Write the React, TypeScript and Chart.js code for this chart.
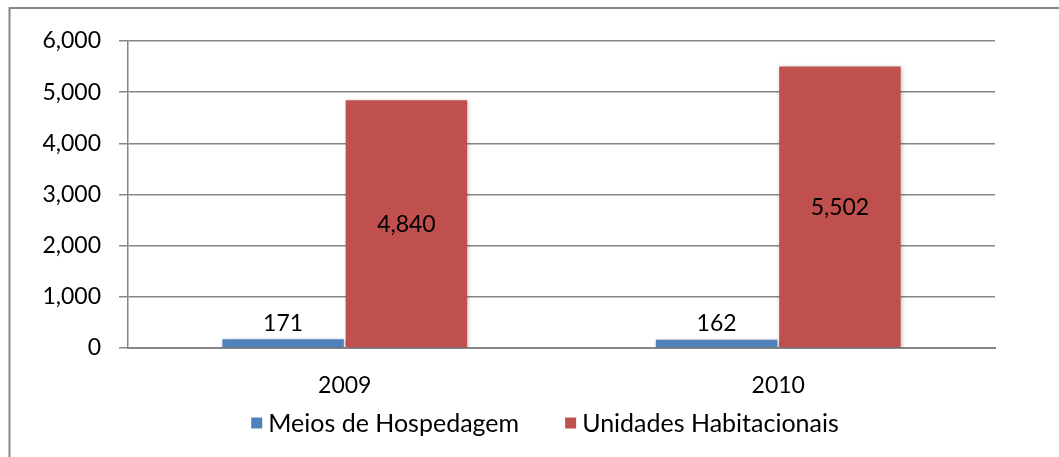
import React, { useEffect, useRef } from "react";
import { Chart, registerables } from "chart.js";

Chart.register(...registerables);

const categories = ["2009", "2010"];
const seriesNames = ["Meios de Hospedagem", "Unidades Habitacionais"];
const meiosValues = [171, 162];
const unidadesValues = [4840, 5502];
const yTicks = [0, 1000, 2000, 3000, 4000, 5000, 6000];

const FONT = "Lato, 'Open Sans', sans-serif";
const GRID = "#868686";
const BLUE = "#4f81bd";
const RED = "#c0504d";
const TICK_SIZE = 23;
const LEGEND_SIZE = 25;

const framePlugin = {
  id: "frame",
  beforeDraw(chart: any) {
    const ctx = chart.ctx;
    ctx.save();
    ctx.fillStyle = "#ffffff";
    ctx.fillRect(0, 0, chart.width, chart.height);
    ctx.strokeStyle = GRID;
    ctx.lineWidth = 2;
    ctx.beginPath();
    ctx.moveTo(9.5, chart.height);
    ctx.lineTo(9.5, 8);
    ctx.lineTo(chart.width, 8);
    ctx.stroke();
    ctx.restore();
  },
};

const shadowPlugin = {
  id: "barShadow",
  beforeDatasetsDraw(chart: any) {
    const ctx = chart.ctx;
    ctx.save();
    ctx.shadowColor = "rgba(0,0,0,0.25)";
    ctx.shadowBlur = 4;
    ctx.shadowOffsetX = 1;
    ctx.shadowOffsetY = 1;
  },
  afterDatasetsDraw(chart: any) {
    chart.ctx.restore();
  },
};

const labelPlugin = {
  id: "valueLabels",
  afterDatasetsDraw(chart: any) {
    const ctx = chart.ctx;
    ctx.save();
    ctx.font = `${TICK_SIZE}px ${FONT}`;
    ctx.fillStyle = "#000000";
    ctx.textAlign = "center";
    ctx.textBaseline = "middle";
    chart.data.datasets.forEach((ds: any, di: number) => {
      const meta = chart.getDatasetMeta(di);
      meta.data.forEach((bar: any, i: number) => {
        const v = ds.data[i] as number;
        const txt = v.toLocaleString("en-US");
        const top = bar.y;
        const base = bar.base;
        let y: number;
        if (base - top < 40) {
          y = top - 16;
        } else {
          y = (top + base) / 2 + 1;
        }
        ctx.fillText(txt, bar.x, y);
      });
    });
    ctx.restore();
  },
};

const legendPlugin = {
  id: "customLegend",
  afterDraw(chart: any) {
    const ctx = chart.ctx;
    ctx.save();
    ctx.font = `${LEGEND_SIZE}px ${FONT}`;
    ctx.textBaseline = "middle";
    ctx.textAlign = "left";
    const colors = [BLUE, RED];
    const box = 11;
    const gapBoxText = 6;
    const gapItems = 46;
    const widths = seriesNames.map((n) => box + gapBoxText + ctx.measureText(n).width);
    const total = widths.reduce((a, b) => a + b, 0) + gapItems * (widths.length - 1);
    const cx = 545;
    let x = cx - total / 2;
    const y = 423;
    seriesNames.forEach((n, i) => {
      ctx.fillStyle = colors[i];
      ctx.fillRect(x, y - box / 2, box, box);
      ctx.fillStyle = "#000000";
      ctx.fillText(n, x + box + gapBoxText, y + 1);
      x += widths[i] + gapItems;
    });
    ctx.restore();
  },
};

export default function App() {
  const ref = useRef<HTMLCanvasElement | null>(null);
  useEffect(() => {
    if (!ref.current) return;
    const chart = new Chart(ref.current, {
      type: "bar",
      data: {
        labels: categories,
        datasets: [
          {
            label: seriesNames[0],
            data: meiosValues,
            backgroundColor: BLUE,
            barPercentage: 0.985,
            categoryPercentage: 0.569,
          },
          {
            label: seriesNames[1],
            data: unidadesValues,
            backgroundColor: RED,
            barPercentage: 0.985,
            categoryPercentage: 0.569,
          },
        ],
      },
      options: {
        responsive: false,
        animation: false,
        devicePixelRatio: 1,
        layout: { padding: { left: 0, top: 41, right: 64, bottom: 49 } },
        plugins: {
          legend: { display: false },
          tooltip: { enabled: false },
        },
        scales: {
          x: {
            grid: { display: false, drawTicks: false },
            border: { display: true, color: GRID, width: 2 },
            ticks: {
              color: "#000000",
              font: { family: FONT, size: TICK_SIZE },
              padding: 24,
            },
            afterFit(scale: any) {
              scale.height = 60;
            },
          },
          y: {
            min: 0,
            max: 6000,
            afterBuildTicks(scale: any) {
              scale.ticks = yTicks.map((v) => ({ value: v }));
            },
            grid: {
              color: GRID,
              lineWidth: 1.5,
              drawTicks: true,
              tickLength: 9,
            },
            border: { display: true, color: GRID, width: 1.5 },
            ticks: {
              color: "#000000",
              font: { family: FONT, size: TICK_SIZE },
              padding: 18,
              callback: (v: any) => Number(v).toLocaleString("en-US"),
            },
            afterFit(scale: any) {
              scale.width = 128;
            },
          },
        },
      },
      plugins: [framePlugin, shadowPlugin, labelPlugin, legendPlugin],
    });
    return () => chart.destroy();
  }, []);
  return (
    <div style={{ position: "absolute", left: 0, top: 0, width: 1059, height: 457 }}>
      <canvas ref={ref} width={1059} height={457} style={{ display: "block" }} />
    </div>
  );
}
